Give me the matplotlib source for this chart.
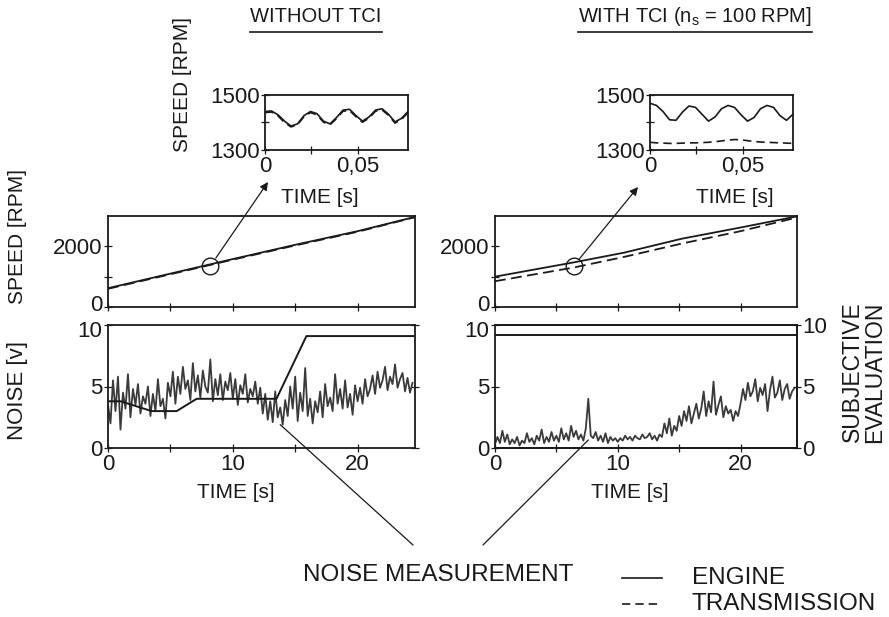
import matplotlib.pyplot as plt
import matplotlib.transforms as mtrans
import numpy as np

plt.rcParams['font.family'] = ['Liberation Sans', 'DejaVu Sans']
plt.rcParams['mathtext.fontset'] = 'custom'
plt.rcParams['mathtext.rm'] = 'Liberation Sans'

W, H = 889, 617
INK = '#1a1a1a'

# speed ramps [s], [RPM]
t_ramp_a = [0, 5, 10, 15, 20, 24.5]
engine_a = [620, 1100, 1580, 2050, 2500, 2960]
trans_a = [600, 1080, 1560, 2030, 2480, 2950]

t_ramp_b = [0, 6.4, 10.5, 15.2, 20, 24.5]
engine_b = [1000, 1470, 1790, 2250, 2620, 2980]
trans_b = [850, 1300, 1650, 2090, 2500, 2940]

# zoomed speed over 0.077 s
inset_t = [0, .0035, .007, .0105, .014, .0175, .021, .0245, .028, .0315, .035, .0385,
           .042, .0455, .049, .0525, .056, .0595, .063, .0665, .070, .0735, .077]
inset_eng_a = [1440, 1442, 1428, 1405, 1387, 1395, 1425, 1440, 1432, 1405, 1395, 1418,
               1445, 1448, 1425, 1405, 1420, 1445, 1450, 1430, 1402, 1415, 1440]
inset_trn_a = [1436, 1438, 1424, 1400, 1384, 1392, 1421, 1436, 1428, 1401, 1392, 1414,
               1441, 1444, 1421, 1401, 1416, 1441, 1446, 1426, 1398, 1411, 1436]
inset_eng_b = [1470, 1462, 1440, 1410, 1408, 1438, 1460, 1455, 1430, 1405, 1420, 1450,
               1462, 1455, 1428, 1405, 1418, 1450, 1462, 1455, 1425, 1408, 1430]
inset_trn_b = [1328, 1326, 1325, 1324, 1324, 1325, 1326, 1326, 1327, 1328, 1330, 1333,
               1336, 1338, 1337, 1334, 1331, 1329, 1328, 1327, 1326, 1325, 1324]

# noise measurement [v], sampled every 0.2 s
noise_a = [3.5, 2.0, 5.5, 3.0, 5.8, 1.5, 4.5, 3.2, 6.0, 2.5, 4.8, 3.5, 5.2, 2.8, 4.2, 3.6, 5.0, 2.6, 4.4, 3.0, 5.6, 3.4, 4.0, 2.4, 5.3,
           4.2, 6.2, 3.6, 5.8, 4.4, 6.6, 4.8, 5.5, 3.9, 6.9, 4.6, 5.9, 4.1, 6.3, 5.0, 4.5, 7.2, 3.8, 5.6, 4.3, 6.0, 3.9, 5.4, 4.7, 6.1,
           4.0, 5.6, 3.5, 5.1, 4.4, 6.0, 3.7, 4.8, 4.2, 5.4, 3.6, 4.9, 2.8, 4.4, 2.3, 3.8, 2.1, 4.6, 2.5, 3.3, 1.9, 3.9, 2.6, 5.0, 3.2,
           5.8, 2.2, 4.5, 3.0, 6.5, 2.6, 4.0, 2.0, 3.8, 2.9, 4.6, 2.5, 5.2, 3.4, 4.1, 3.0, 6.0, 3.6, 4.8, 3.2, 5.5, 3.3, 4.4, 2.7, 5.1,
           3.8, 4.9, 3.6, 5.6, 4.2, 4.8, 5.9, 4.4, 6.2, 4.9, 5.5, 6.6, 4.7, 5.8, 5.2, 6.8, 4.9, 5.6, 6.1, 4.6, 5.7, 4.5, 5.3]
noise_b = [0.3, 0.9, 0.4, 1.4, 0.5, 1.1, 0.3, 0.7, 0.4, 0.9, 0.2, 0.6, 0.4, 1.2, 0.5, 0.8, 0.3, 1.0, 0.6, 1.5, 0.4, 0.9, 0.5, 1.3, 0.6,
           1.0, 0.5, 1.6, 0.7, 1.2, 0.6, 1.8, 0.9, 1.4, 0.7, 1.1, 0.6, 1.6, 4.0, 1.0, 0.8, 1.3, 0.6, 1.0, 0.5, 1.2, 0.4, 0.9, 0.6, 0.8,
           0.5, 0.8, 0.6, 1.0, 0.7, 0.9, 0.6, 1.0, 0.8, 0.7, 1.1, 0.8, 0.9, 1.2, 0.7, 1.0, 0.6, 1.1, 0.9, 2.0, 1.2, 2.4, 1.0, 1.8, 1.4,
           2.6, 1.8, 3.0, 2.2, 3.4, 2.0, 2.8, 3.6, 2.4, 3.2, 4.6, 2.6, 3.8, 2.9, 5.4, 2.7, 3.5, 4.2, 2.5, 3.4, 2.8, 3.1, 2.2, 3.0, 2.6,
           3.6, 4.8, 3.9, 5.3, 4.2, 4.6, 5.6, 3.8, 4.9, 4.3, 5.2, 3.0, 4.7, 5.8, 4.1, 4.5, 5.5, 3.9, 4.8, 5.2, 4.0, 4.6, 4.9]
t_noise = np.linspace(0, 24.4, len(noise_a))

# subjective evaluation
subj_t_a = [0, 1, 3.5, 5.5, 7.1, 13.5, 15.9, 24.5]
subj_a = [3.8, 3.8, 3.0, 3.0, 4.0, 4.0, 9.1, 9.1]
subj_t_b = [0, 24.5]
subj_b = [9.2, 9.2]

# where the zoomed window was taken (circle marks)
mark_a = (8.2, 1350)
mark_b = (6.4, 1350)


def box(x0, y0, x1, y1):
    return [x0 / W, 1 - y1 / H, (x1 - x0) / W, (y1 - y0) / H]


def fx(x):
    return x / W


def fy(y):
    return 1 - y / H


def style(ax, fs=16):
    for s in ax.spines.values():
        s.set_linewidth(1.3)
        s.set_color(INK)
    ax.tick_params(direction='inout', length=6, width=0.9, labelsize=fs, colors=INK, pad=1)


def nudge(label, dy):
    # shift a tick label up (+) or down (-) by dy points
    label.set_transform(label.get_transform() + mtrans.ScaledTranslation(0, dy / 72, fig.dpi_scale_trans))


fig = plt.figure(figsize=(W / 100, H / 100), dpi=100)

panels = {}
for key, x0, x1, ix0, ix1 in [('a', 108, 415, 265, 408), ('b', 495, 797, 650, 793)]:
    sp = fig.add_axes(box(x0, 216, x1, 307))
    nz = fig.add_axes(box(x0, 325, x1, 448))
    ins = fig.add_axes(box(ix0, 95, ix1, 150))
    panels[key] = (sp, nz, ins)

data = {
    'a': (t_ramp_a, engine_a, trans_a, inset_eng_a, inset_trn_a, noise_a, subj_t_a, subj_a, mark_a),
    'b': (t_ramp_b, engine_b, trans_b, inset_eng_b, inset_trn_b, noise_b, subj_t_b, subj_b, mark_b),
}

for key, (sp, nz, ins) in panels.items():
    tr, eng, trn, ie, it, nv, st, sv, mk = data[key]

    sp.plot(tr, eng, color=INK, lw=1.3)
    sp.plot(tr, trn, color=INK, lw=1.3, dashes=(6, 3))
    sp.plot(*mk, 'o', ms=12, mfc='none', mec=INK, mew=1.0)
    sp.set_xlim(0, 24.6)
    sp.set_ylim(0, 3000)
    sp.set_xticks([0, 5, 10, 15, 20], [])
    sp.set_yticks([0, 1000, 2000], ['0', '', '2000'])
    style(sp)
    nudge(sp.get_yticklabels()[0], 3)

    nz.plot(t_noise, nv, color='#3a3a3a', lw=1.3)
    nz.plot(st, sv, color=INK, lw=1.4)
    nz.set_xlim(0, 24.6)
    nz.set_ylim(0, 10)
    nz.set_xticks([0, 5, 10, 15, 20], ['0', '', '10', '', '20'])
    nz.set_yticks([0, 5, 10])
    nz.tick_params(right=True)
    style(nz)
    nudge(nz.get_yticklabels()[2], -3)

    ins.plot(inset_t, ie, color=INK, lw=1.2)
    ins.plot(inset_t, it, color=INK, lw=1.2, dashes=(5, 3))
    ins.set_xlim(0, 0.077)
    ins.set_ylim(1300, 1500)
    ins.set_xticks([0, 0.025, 0.05], ['0', '', '0,05'])
    ins.set_yticks([1300, 1400, 1500], ['1300', '', '1500'])
    style(ins)

    # arrow from the circle up to the inset
    tip = (fx(268), fy(182)) if key == 'a' else (fx(638), fy(187))
    sp.annotate('', xy=tip, xycoords='figure fraction', xytext=mk, textcoords='data',
                arrowprops=dict(arrowstyle='-|>', color=INK, lw=0.9, shrinkA=7, shrinkB=0,
                                mutation_scale=12))

# subjective evaluation axis on the right panel
tw = panels['b'][1].twinx()
tw.set_ylim(0, 10)
tw.set_yticks([0, 5, 10])
style(tw)
tw.spines['left'].set_visible(False)

# pointers to the noise traces
for key, pt, end in [('a', (13.8, 1.9), (413, 545)), ('b', (7.6, 0.65), (483, 545))]:
    nz = panels[key][1]
    nz.annotate('', xy=(fx(end[0]), fy(end[1])), xycoords='figure fraction', xytext=pt,
                textcoords='data', arrowprops=dict(arrowstyle='-', color=INK, lw=0.9,
                                                   shrinkA=0, shrinkB=0))

fs = 15
fig.text(fx(18), fy(237), 'SPEED [RPM]', rotation=90, ha='center', va='center', fontsize=fs, color=INK)
fig.text(fx(18), fy(390), 'NOISE [v]', rotation=90, ha='center', va='center', fontsize=16, color=INK)
fig.text(fx(183), fy(85), 'SPEED [RPM]', rotation=90, ha='center', va='center', fontsize=fs, color=INK)
fig.text(fx(864), fy(372), 'SUBJECTIVE\nEVALUATION', rotation=90, ha='center', va='center',
         fontsize=16.5, color=INK, linespacing=0.95)
for x, y in [(320, 197), (735, 197), (236, 492), (630, 492)]:
    fig.text(fx(x), fy(y), 'TIME [s]', ha='center', va='center', fontsize=fs, color=INK)

fig.text(fx(438), fy(575), 'NOISE MEASUREMENT', ha='center', va='center', fontsize=17.5, color=INK)

# legend
fig.add_artist(plt.Line2D([fx(622), fx(662)], [fy(578), fy(578)], color=INK, lw=1.2))
fig.add_artist(plt.Line2D([fx(622), fx(662)], [fy(604), fy(604)], color=INK, lw=1.2, dashes=(5, 3)))
fig.text(fx(692), fy(578), 'ENGINE', ha='left', va='center', fontsize=17.5, color=INK)
fig.text(fx(692), fy(604), 'TRANSMISSION', ha='left', va='center', fontsize=17.5, color=INK)

# underlined titles
titles = [fig.text(fx(316), fy(16), 'WITHOUT TCI', ha='center', va='center', fontsize=14.5, color=INK),
          fig.text(fx(695), fy(16), r'WITH TCI (n$_\mathregular{s}$ = 100 RPM]', ha='center',
                   va='center', fontsize=14.5, color=INK)]
fig.canvas.draw()
r = fig.canvas.get_renderer()
for t in titles:
    bb = t.get_window_extent(r)
    fig.add_artist(plt.Line2D([bb.x0 / W, bb.x1 / W], [fy(32), fy(32)], color=INK, lw=1.2))

fig.savefig('out.png', dpi=100)
